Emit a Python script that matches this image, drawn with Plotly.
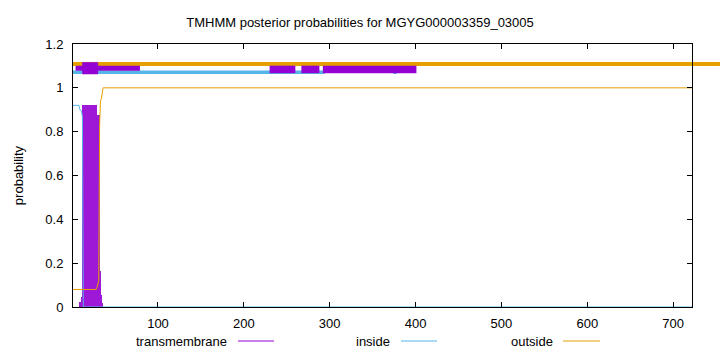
import plotly.graph_objects as go

# ---------------- data ----------------
chart_title = "TMHMM posterior probabilities for MGYG000003359_03005"
seq_len = 722
x_ticks = [100, 200, 300, 400, 500, 600, 700]
y_ticks = [0, 0.2, 0.4, 0.6, 0.8, 1, 1.2]
y_tick_labels = ["0", "0.2", "0.4", "0.6", "0.8", "1", "1.2"]

# posterior probability curves (residue breakpoints, probability)
inside_x = [1, 8, 9, 10, 11, 12, 13, 722]
inside_y = [0.92, 0.92, 0.90, 0.90, 0.89, 0.87, 0.0, 0.0]
outside_x = [1, 28, 29, 30, 31, 32, 33, 34, 35, 36, 722]
outside_y = [0.08, 0.08, 0.09, 0.11, 0.12, 0.83, 0.94, 0.95, 0.98, 1.0, 1.0]

# transmembrane posterior (impulses), residues 9..35
tm_x = [9, 10, 11, 12, 13, 14, 15, 16, 17, 18, 19, 20, 21, 22, 23, 24, 25, 26, 27,
        28, 29, 30, 31, 32, 33, 34, 35]
tm_y = [0.024, 0.024, 0.047, 0.047, 0.92, 0.92, 0.92, 0.92, 0.92, 0.92, 0.92, 0.92,
        0.92, 0.92, 0.92, 0.92, 0.92, 0.92, 0.92, 0.92, 0.876, 0.876, 0.876, 0.166,
        0.055, 0.055, 0.02]

# predicted topology bars drawn above the curves (start, end residues)
top_outside_segments = [(1, 760)]
top_tm_thin_segments = [(4, 79)]
top_tm_box_segments = [(12, 30)]
top_tm_segments = [(230, 260), (267, 288), (292, 401)]
top_inside_segments = [(1, 294), (374, 378)]

# ---------------- style ----------------
C_TM = "#9400D3"
C_IN = "#56B4E9"
C_OUT = "#E69F00"
FONT = "Liberation Sans, Arial, Helvetica, sans-serif"
X_RANGE = [1, seq_len]
Y_RANGE = [0, 1.2]
L, R, T, B = 73, 28, 44, 45
W, H = 720, 352


def seg_xy(segments, level):
    xs, ys = [], []
    for a, b in segments:
        xs += [a, b, None]
        ys += [level, level, None]
    return xs, ys


fig = go.Figure()

# transmembrane impulses
fig.add_trace(go.Bar(x=tm_x, y=tm_y, width=1, marker=dict(color=C_TM, line=dict(width=0)),
                     opacity=0.9, showlegend=False, hoverinfo="x+y"))

# inside / outside curves
fig.add_trace(go.Scatter(x=inside_x, y=inside_y, mode="lines",
                         line=dict(color=C_IN, width=1), showlegend=False))
fig.add_trace(go.Scatter(x=outside_x, y=outside_y, mode="lines",
                         line=dict(color=C_OUT, width=1), showlegend=False))

# topology bars
xs, ys = seg_xy(top_inside_segments, 1.071)
fig.add_trace(go.Scatter(x=xs, y=ys, mode="lines", line=dict(color=C_IN, width=3.5),
                         showlegend=False))
xs, ys = seg_xy(top_tm_thin_segments, 1.089)
fig.add_trace(go.Scatter(x=xs, y=ys, mode="lines", line=dict(color=C_TM, width=5),
                         showlegend=False))
xs, ys = seg_xy(top_tm_segments, 1.084)
fig.add_trace(go.Scatter(x=xs, y=ys, mode="lines", line=dict(color=C_TM, width=7.5),
                         showlegend=False))
for a, b in top_tm_box_segments:
    fig.add_trace(go.Scatter(x=[a, b, b, a, a], y=[1.063, 1.063, 1.116, 1.116, 1.063],
                             mode="lines", fill="toself", fillcolor=C_TM,
                             line=dict(color=C_TM, width=0.5), showlegend=False))


def to_paper_x(v):
    return (v - X_RANGE[0]) / (X_RANGE[1] - X_RANGE[0])


# outside topology line (extends past the frame as in the original)
for a, b in top_outside_segments:
    fig.add_shape(type="line", xref="paper", yref="y", x0=to_paper_x(a), x1=to_paper_x(b),
                  y0=1.109, y1=1.109, line=dict(color=C_OUT, width=4), layer="below")

# gnuplot-style key: text then line sample
pw = W - L - R
ph = H - T - B


def px_to_paper_x(p):
    return (p - L) / pw


def px_to_paper_y(p):
    return (H - B - p) / ph


key = [("transmembrane", C_TM, 229, 238, 274),
       ("inside", C_IN, 392, 401, 437),
       ("outside", C_OUT, 555, 563, 600)]
ky = px_to_paper_y(341)
for label, col, text_right, l0, l1 in key:
    fig.add_annotation(text=label, xref="paper", yref="paper", x=px_to_paper_x(text_right),
                       y=ky, xanchor="right", yanchor="middle", showarrow=False,
                       font=dict(family=FONT, size=13, color="black"))
    fig.add_shape(type="line", xref="paper", yref="paper", x0=px_to_paper_x(l0),
                  x1=px_to_paper_x(l1), y0=ky, y1=ky, line=dict(color=col, width=1))

fig.update_layout(
    width=W, height=H,
    margin=dict(l=L, r=R, t=T, b=B),
    paper_bgcolor="white", plot_bgcolor="white",
    font=dict(family=FONT, size=13, color="black"),
    title=dict(text=chart_title, x=0.5, xref="container", xanchor="center",
               y=1 - 22 / H, yref="container", yanchor="middle",
               font=dict(family=FONT, size=13, color="black")),
    bargap=0, showlegend=False,
    xaxis=dict(range=X_RANGE, tickvals=x_ticks, ticks="inside", ticklen=5, tickwidth=1,
               tickcolor="black", showline=True, linecolor="black", linewidth=1,
               mirror="ticks", showgrid=False, zeroline=False, ticklabelstandoff=4),
    yaxis=dict(range=Y_RANGE, tickvals=y_ticks, ticktext=y_tick_labels, ticks="inside",
               ticklen=5, tickwidth=1, tickcolor="black", showline=True, linecolor="black",
               linewidth=1, mirror="ticks", showgrid=False, zeroline=False,
               ticklabelstandoff=6,
               title=dict(text="probability", standoff=18,
                          font=dict(family=FONT, size=13, color="black"))),
)

fig.write_html("out.html")
